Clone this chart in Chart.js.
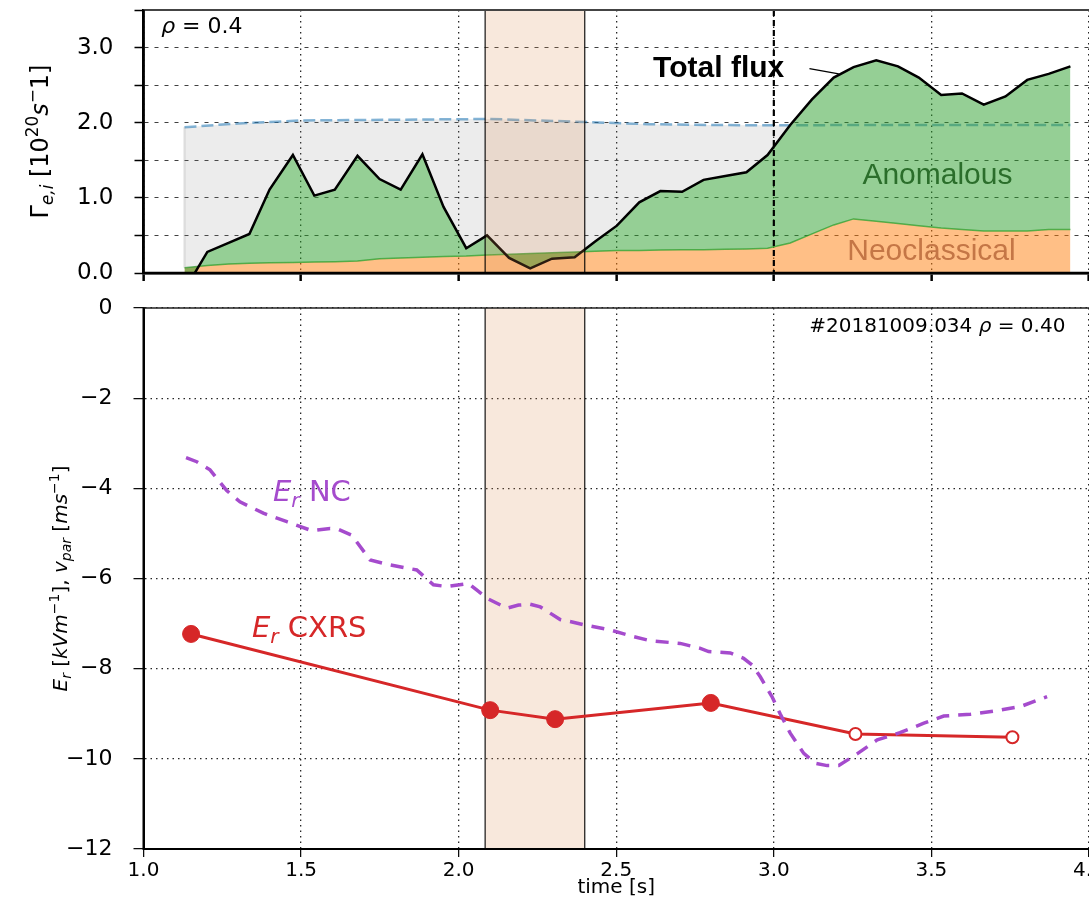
<!DOCTYPE html>
<html>
<head>
<meta charset="utf-8">
<script src="https://cdn.jsdelivr.net/npm/chart.js@4"></script>
<style>
  html, body { margin: 0; padding: 0; background: #fff; overflow: hidden; }
  #wrap { position: relative; width: 1089px; height: 900px; overflow: hidden; }
  #top { position: absolute; left: 0; top: 0; }
  #bot { position: absolute; left: 0; top: 290px; }
</style>
</head>
<body>
<div id="wrap">
  <canvas id="top" width="1089" height="290"></canvas>
  <canvas id="bot" width="1089" height="610"></canvas>
</div>
<script>
// ---- top panel: particle flux ----
const fluxTime = [1.13, 1.2025, 1.27, 1.336, 1.40, 1.474, 1.542, 1.607, 1.679, 1.749, 1.816, 1.885, 1.952, 2.024,
  2.09, 2.16, 2.227, 2.296, 2.368, 2.433, 2.502, 2.573, 2.64, 2.709, 2.777, 2.846, 2.913, 2.98, 3.052, 3.121,
  3.19, 3.253, 3.325, 3.394, 3.46, 3.531, 3.597, 3.666, 3.735, 3.804, 3.872, 3.941];
const totalFlux = [-0.23, 0.28, 0.40, 0.52, 1.11, 1.57, 1.03, 1.11, 1.56, 1.25, 1.11, 1.58, 0.88, 0.33,
  0.50, 0.20, 0.06, 0.19, 0.21, 0.42, 0.63, 0.94, 1.09, 1.08, 1.24, 1.29, 1.34, 1.57, 1.97, 2.31,
  2.60, 2.74, 2.83, 2.75, 2.60, 2.37, 2.39, 2.24, 2.35, 2.57, 2.65, 2.75];
const neoFlux = [0.07, 0.10, 0.12, 0.13, 0.135, 0.14, 0.145, 0.15, 0.16, 0.19, 0.20, 0.21, 0.22, 0.225,
  0.24, 0.25, 0.26, 0.27, 0.28, 0.29, 0.30, 0.30, 0.305, 0.31, 0.31, 0.315, 0.32, 0.33, 0.40, 0.52,
  0.64, 0.72, 0.69, 0.66, 0.63, 0.60, 0.58, 0.56, 0.56, 0.56, 0.58, 0.58];
const limTime = [1.13, 1.3, 1.5, 1.8, 2.1, 2.4, 2.6, 2.8, 3.0, 3.3, 3.6, 3.941];
const limFlux = [1.94, 1.99, 2.03, 2.04, 2.05, 2.01, 1.98, 1.97, 1.965, 1.97, 1.97, 1.97];

// ---- bottom panel: radial electric field ----
const ncTime = [1.135, 1.169, 1.211, 1.264, 1.306, 1.38, 1.455, 1.534, 1.592, 1.618, 1.661, 1.719, 1.783,
  1.867, 1.92, 1.963, 2.031, 2.058, 2.09, 2.153, 2.19, 2.227, 2.259, 2.322, 2.37, 2.40, 2.48, 2.555,
  2.608, 2.703, 2.767, 2.793, 2.862, 2.904, 2.931, 2.957, 2.994, 3.02, 3.052, 3.095, 3.132, 3.169,
  3.206, 3.264, 3.328, 3.40, 3.476, 3.539, 3.624, 3.709, 3.783, 3.867];
const ncEr = [-3.32, -3.41, -3.59, -4.05, -4.30, -4.55, -4.74, -4.94, -4.89, -4.91, -5.04, -5.59, -5.70,
  -5.81, -6.14, -6.18, -6.11, -6.26, -6.44, -6.66, -6.59, -6.57, -6.63, -6.91, -6.98, -7.03, -7.14, -7.29,
  -7.38, -7.44, -7.55, -7.62, -7.65, -7.77, -7.92, -8.18, -8.62, -9.0, -9.43, -9.88, -10.1, -10.15,
  -10.15, -9.89, -9.58, -9.42, -9.21, -9.05, -9.01, -8.93, -8.84, -8.62];
const cxrsTime = [1.151, 2.10, 2.306, 2.80, 3.259, 3.757];
const cxrsEr = [-7.23, -8.92, -9.12, -8.76, -9.45, -9.52];
const cxrsHollow = [false, false, false, false, true, true];

const shadeStart = 2.084, shadeEnd = 2.40;

const pts = (xs, ys) => xs.map((x, i) => ({x: x, y: ys[i]}));
const FAM = '"DejaVu Sans"';

// draw text made of runs (normal / italic / sub / sup)
function drawRich(ctx, parts, x, y, size, color, align) {
  ctx.save();
  ctx.fillStyle = color;
  ctx.textBaseline = 'alphabetic';
  const spec = p => {
    const small = p.s === 'sub' || p.s === 'sup';
    const sz = small ? size * 0.7 : size;
    const dy = p.s === 'sub' ? size * 0.22 : (p.s === 'sup' ? -size * 0.42 : 0);
    return {font: (p.i ? 'italic ' : '') + sz + 'px ' + FAM, dy: dy};
  };
  let w = 0;
  parts.forEach(p => { ctx.font = spec(p).font; w += ctx.measureText(p.t).width; });
  let cx = align === 'right' ? x - w : (align === 'center' ? x - w / 2 : x);
  parts.forEach(p => {
    const s = spec(p);
    ctx.font = s.font;
    ctx.fillText(p.t, cx, y + s.dy);
    cx += ctx.measureText(p.t).width;
  });
  ctx.restore();
}

function drawShade(chart) {
  const {ctx, chartArea: a, scales: {x}} = chart;
  const x0 = x.getPixelForValue(shadeStart), x1 = x.getPixelForValue(shadeEnd);
  ctx.save();
  ctx.fillStyle = 'rgba(220,140,80,0.2)';
  ctx.fillRect(x0, a.top, x1 - x0, a.bottom - a.top);
  ctx.strokeStyle = 'rgba(0,0,0,0.85)';
  ctx.lineWidth = 1.3;
  ctx.beginPath();
  ctx.moveTo(x0, a.top); ctx.lineTo(x0, a.bottom);
  ctx.moveTo(x1, a.top); ctx.lineTo(x1, a.bottom);
  ctx.stroke();
  ctx.restore();
}

// solid spines drawn over everything (left, bottom, top)
function drawSpines(chart, wLeft, topColor, topWidth) {
  const {ctx, chartArea: a} = chart;
  ctx.save();
  ctx.setLineDash([]);
  ctx.strokeStyle = topColor;
  ctx.lineWidth = topWidth;
  ctx.beginPath(); ctx.moveTo(a.left, a.top); ctx.lineTo(a.right, a.top); ctx.stroke();
  ctx.strokeStyle = 'black';
  ctx.lineWidth = wLeft;
  ctx.beginPath();
  ctx.moveTo(a.left, a.top); ctx.lineTo(a.left, a.bottom); ctx.lineTo(a.right, a.bottom);
  ctx.stroke();
  ctx.restore();
}

const topDecor = {
  id: 'topDecor',
  afterDatasetsDraw(chart) {
    const {ctx, chartArea: a, scales: {x, y}} = chart;
    // faint edge at the start of the grey band
    ctx.save();
    ctx.strokeStyle = 'rgba(128,128,128,0.25)';
    ctx.lineWidth = 2;
    const xs = x.getPixelForValue(limTime[0]);
    ctx.beginPath(); ctx.moveTo(xs, y.getPixelForValue(limFlux[0])); ctx.lineTo(xs, y.getPixelForValue(neoFlux[0])); ctx.stroke();
    ctx.restore();
    drawShade(chart);
    // bold dashed marker at t = 3.0
    ctx.save();
    ctx.strokeStyle = 'black';
    ctx.lineWidth = 2.2;
    ctx.setLineDash([6, 4]);
    const xm = x.getPixelForValue(3.0);
    ctx.beginPath(); ctx.moveTo(xm, a.top); ctx.lineTo(xm, a.bottom); ctx.stroke();
    ctx.setLineDash([]);
    // labels
    ctx.textBaseline = 'alphabetic';
    ctx.fillStyle = 'black';
    ctx.font = 'bold 30px "Liberation Sans"';
    ctx.fillText('Total flux', x.getPixelForValue(2.617), y.getPixelForValue(2.613));
    ctx.strokeStyle = 'black';
    ctx.lineWidth = 1.3;
    ctx.beginPath();
    ctx.moveTo(x.getPixelForValue(3.113), y.getPixelForValue(2.72));
    ctx.lineTo(x.getPixelForValue(3.206), y.getPixelForValue(2.65));
    ctx.stroke();
    ctx.fillStyle = '#2b6e2b';
    ctx.font = '30px "Liberation Sans"';
    ctx.fillText('Anomalous', x.getPixelForValue(3.281), y.getPixelForValue(1.187));
    ctx.fillStyle = '#c47646';
    ctx.fillText('Neoclassical', x.getPixelForValue(3.233), y.getPixelForValue(0.173));
    ctx.restore();
    drawRich(ctx, [{t: 'ρ', i: true}, {t: ' = 0.4'}], x.getPixelForValue(1.056), y.getPixelForValue(3.2), 22, 'black', 'left');
  },
  afterDraw(chart) {
    const ctx = chart.ctx;
    drawSpines(chart, 2.5, '#444', 2);
    ctx.save();
    ctx.translate(48, (chart.chartArea.top + chart.chartArea.bottom) / 2);
    ctx.rotate(-Math.PI / 2);
    drawRich(ctx, [{t: 'Γ'}, {t: 'e,i', s: 'sub', i: true}, {t: ' [10'}, {t: '20', s: 'sup'},
      {t: 's', i: true}, {t: '−', s: 'sup'}, {t: '1]'}], 0, 0, 24, 'black', 'center');
    ctx.restore();
  }
};

const botDecor = {
  id: 'botDecor',
  beforeDatasetsDraw(chart) { drawShade(chart); },
  afterDraw(chart) {
    const {ctx, chartArea: a, scales: {x, y}} = chart;
    drawSpines(chart, 2, '#222', 1.5);
    drawRich(ctx, [{t: '#20181009.034 '}, {t: 'ρ', i: true}, {t: ' = 0.40'}],
      x.getPixelForValue(3.925), y.getPixelForValue(-0.53), 20, 'black', 'right');
    drawRich(ctx, [{t: 'E', i: true}, {t: 'r', s: 'sub', i: true}, {t: ' NC'}],
      x.getPixelForValue(1.411), y.getPixelForValue(-4.28), 29, 'rgb(165,75,205)', 'left');
    drawRich(ctx, [{t: 'E', i: true}, {t: 'r', s: 'sub', i: true}, {t: ' CXRS'}],
      x.getPixelForValue(1.344), y.getPixelForValue(-7.30), 29, '#d62728', 'left');
    ctx.save();
    ctx.translate(67, (a.top + a.bottom) / 2);
    ctx.rotate(-Math.PI / 2);
    drawRich(ctx, [{t: 'E', i: true}, {t: 'r', s: 'sub', i: true}, {t: ' ['}, {t: 'kVm', i: true},
      {t: '−1', s: 'sup'}, {t: '], '}, {t: 'v', i: true}, {t: 'par', s: 'sub', i: true}, {t: ' ['},
      {t: 'ms', i: true}, {t: '−1', s: 'sup'}, {t: ']'}], 0, 0, 20, 'black', 'center');
    ctx.restore();
  }
};

const noPadX = (h) => function (s) { s.height = h; s.paddingLeft = 0; s.paddingRight = 0; };
const noPadY = function (s) { s.width = 143.5; s.paddingTop = 0; s.paddingBottom = 0; };

new Chart(document.getElementById('top'), {
  type: 'line',
  data: {
    datasets: [
      {data: pts(fluxTime, totalFlux), borderColor: 'black', borderWidth: 2.5, pointRadius: 0,
        fill: {target: 2}, backgroundColor: 'rgba(44,160,44,0.5)'},
      {data: pts(limTime, limFlux), borderColor: 'rgba(31,119,180,0.55)', borderWidth: 2.5,
        borderDash: [12, 5], pointRadius: 0,
        fill: {target: 0, above: 'rgba(128,128,128,0.15)', below: 'rgba(0,0,0,0)'}},
      {data: pts(fluxTime, neoFlux), borderColor: 'rgba(44,160,44,0.75)', borderWidth: 1.5, pointRadius: 0,
        fill: 'origin', backgroundColor: 'rgba(255,127,14,0.5)'}
    ]
  },
  options: {
    responsive: false, animation: false, events: [],
    layout: {autoPadding: false, padding: {top: 10, left: 0, right: 0, bottom: 0}},
    plugins: {legend: {display: false}, tooltip: {enabled: false}},
    scales: {
      x: {type: 'linear', min: 1, max: 4,
        ticks: {stepSize: 0.5, display: false},
        grid: {color: 'rgba(0,0,0,0.85)', lineWidth: 1.3, tickLength: 8,
          tickColor: 'black', tickWidth: 2.5, tickBorderDash: []},
        border: {color: 'black', width: 2.5, dash: [1.5, 4]},
        afterFit: noPadX(17)},
      y: {min: 0, max: 3.5,
        ticks: {stepSize: 0.5, color: 'black', padding: 21, font: {family: 'DejaVu Sans', size: 23},
          callback: v => Number.isInteger(v) ? v.toFixed(1) : ''},
        grid: {color: 'rgba(0,0,0,0.75)', lineWidth: 1, tickLength: 9,
          tickColor: 'black', tickWidth: 1.5, tickBorderDash: []},
        border: {color: 'black', width: 2.5, dash: [4, 6]},
        afterFit: noPadY}
    }
  },
  plugins: [topDecor]
});

new Chart(document.getElementById('bot'), {
  type: 'line',
  data: {
    datasets: [
      {data: pts(ncTime, ncEr), borderColor: 'rgb(165,75,205)', borderWidth: 3.5, borderDash: [13, 9],
        pointRadius: 0, fill: false},
      {data: pts(cxrsTime, cxrsEr), borderColor: '#d62728', borderWidth: 3, fill: false,
        pointRadius: cxrsHollow.map(h => h ? 6 : 8.5),
        pointBackgroundColor: cxrsHollow.map(h => h ? 'white' : '#d62728'),
        pointBorderColor: '#d62728', pointBorderWidth: cxrsHollow.map(h => h ? 2 : 1)}
    ]
  },
  options: {
    responsive: false, animation: false, events: [],
    layout: {autoPadding: false, padding: {top: 18, left: 0, right: 0, bottom: 0}},
    plugins: {legend: {display: false}, tooltip: {enabled: false}},
    scales: {
      x: {type: 'linear', min: 1, max: 4,
        ticks: {stepSize: 0.5, color: 'black', padding: 2, maxRotation: 0, autoSkip: false,
          font: {family: 'DejaVu Sans', size: 20}, callback: v => v.toFixed(1)},
        title: {display: true, text: 'time [s]', color: 'black', padding: {top: 0, bottom: 0},
          font: {family: 'DejaVu Sans', size: 20}},
        grid: {color: 'rgba(0,0,0,0.85)', lineWidth: 1.3, tickLength: 8,
          tickColor: 'black', tickWidth: 1.2, tickBorderDash: []},
        border: {color: 'black', width: 2, dash: [1.5, 4]},
        afterFit: noPadX(51)},
      y: {min: -12, max: 0,
        ticks: {stepSize: 2, color: 'black', padding: 21, font: {family: 'DejaVu Sans', size: 22},
          callback: v => v === 0 ? '0' : '−' + Math.abs(v)},
        grid: {color: 'rgba(0,0,0,0.85)', lineWidth: 1.3, tickLength: 10,
          tickColor: 'black', tickWidth: 1.2, tickBorderDash: []},
        border: {color: 'black', width: 2, dash: [1.5, 4]},
        afterFit: noPadY}
    }
  },
  plugins: [botDecor]
});
</script>
</body>
</html>
